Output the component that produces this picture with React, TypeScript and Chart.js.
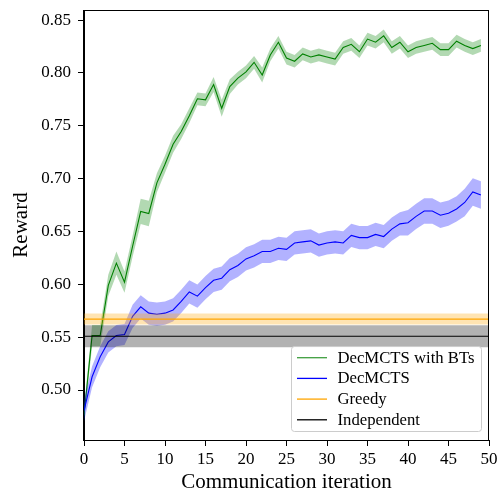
import React, { useEffect, useRef } from "react";
import { Chart, registerables } from "chart.js";

Chart.register(...registerables);

const iterations = [
  0, 1, 2, 3, 4, 5, 6, 7, 8, 9, 10, 11, 12, 13, 14, 15, 16, 17, 18, 19, 20, 21, 22, 23, 24,
  25, 26, 27, 28, 29, 30, 31, 32, 33, 34, 35, 36, 37, 38, 39, 40, 41, 42, 43, 44, 45, 46, 47, 48, 49,
];

const btMean = [
  0.476, 0.5515, 0.5515, 0.599, 0.620, 0.602, 0.636, 0.669, 0.667, 0.696,
  0.7135, 0.7325, 0.7445, 0.7595, 0.7755, 0.7745, 0.789, 0.7665, 0.787, 0.795,
  0.801, 0.810, 0.798, 0.817, 0.829, 0.814, 0.811, 0.818, 0.815, 0.817,
  0.815, 0.813, 0.824, 0.827, 0.820, 0.832, 0.829, 0.835, 0.824, 0.829,
  0.820, 0.824, 0.826, 0.828, 0.822, 0.822, 0.830, 0.826, 0.823, 0.826,
];
const btStd = [
  0.006, 0.010, 0.010, 0.010, 0.011, 0.010, 0.010, 0.012, 0.012, 0.009,
  0.008, 0.008, 0.007, 0.007, 0.006, 0.006, 0.007, 0.008, 0.007, 0.006,
  0.006, 0.006, 0.007, 0.006, 0.006, 0.006, 0.006, 0.006, 0.006, 0.006,
  0.006, 0.006, 0.006, 0.006, 0.006, 0.006, 0.006, 0.006, 0.006, 0.006,
  0.006, 0.006, 0.006, 0.006, 0.006, 0.006, 0.006, 0.006, 0.006, 0.006,
];

const decMean = [
  0.4805, 0.5125, 0.5315, 0.5455, 0.5515, 0.5525, 0.5697, 0.5787, 0.5727, 0.5717,
  0.5727, 0.5757, 0.5838, 0.5928, 0.5888, 0.5968, 0.6038, 0.6058, 0.6138, 0.6178,
  0.624, 0.627, 0.6311, 0.6311, 0.6341, 0.6331, 0.6391, 0.6401, 0.6411, 0.6371,
  0.6391, 0.6401, 0.6391, 0.6462, 0.6442, 0.6442, 0.6472, 0.6452, 0.6522, 0.6572,
  0.6582, 0.6643, 0.6693, 0.6693, 0.6653, 0.6673, 0.6713, 0.6774, 0.6874, 0.6844,
];
const decStd = [
  0.010, 0.010, 0.010, 0.010, 0.010, 0.010, 0.011, 0.011, 0.011, 0.011,
  0.011, 0.011, 0.011, 0.011, 0.011, 0.011, 0.011, 0.011, 0.011, 0.011,
  0.011, 0.011, 0.011, 0.011, 0.011, 0.011, 0.011, 0.011, 0.011, 0.011,
  0.011, 0.011, 0.011, 0.011, 0.011, 0.011, 0.011, 0.011, 0.011, 0.011,
  0.012, 0.012, 0.012, 0.012, 0.012, 0.012, 0.012, 0.013, 0.013, 0.013,
];

const greedyMean = 0.5671;
const greedyStd = 0.0052;
const indepMean = 0.5508;
const indepStd = 0.0104;

const xSpan = [0, 50];
const xTickValues = [0, 5, 10, 15, 20, 25, 30, 35, 40, 45, 50];
const yTickValues = [0.5, 0.55, 0.6, 0.65, 0.7, 0.75, 0.8, 0.85];

const legendLabels = ["DecMCTS with BTs", "DecMCTS", "Greedy", "Independent"];
const legendColors = ["#3f9f3f", "#0000ff", "#ffa500", "#000000"];

const FONT = "'Liberation Serif', 'Times New Roman', serif";

function series(xs: number[], ys: number[]) {
  return xs.map((x, i) => ({ x, y: ys[i] }));
}

function bandSets(
  xs: number[],
  mean: number[],
  std: number[],
  line: string,
  fill: string,
  baseOrder: number
) {
  const lo = mean.map((m, i) => m - std[i]);
  const hi = mean.map((m, i) => m + std[i]);
  return [
    {
      data: series(xs, lo),
      borderWidth: 0,
      borderColor: "rgba(0,0,0,0)",
      pointRadius: 0,
      fill: false,
      order: baseOrder + 2,
      clip: 0,
    },
    {
      data: series(xs, hi),
      borderWidth: 0,
      borderColor: "rgba(0,0,0,0)",
      backgroundColor: fill,
      pointRadius: 0,
      fill: "-1",
      order: baseOrder + 1,
      clip: 0,
    },
    {
      data: series(xs, mean),
      borderWidth: 1.1,
      borderColor: line,
      pointRadius: 0,
      fill: false,
      order: baseOrder,
      clip: 0,
    },
  ];
}

const framePlugin = {
  id: "frameAndLegend",
  afterDraw(chart: any) {
    const { ctx, chartArea } = chart;
    const { left, right, top, bottom } = chartArea;
    ctx.save();
    ctx.strokeStyle = "#000";
    ctx.lineWidth = 1;
    ctx.strokeRect(Math.round(left) + 0.5 - 1, Math.round(top) + 0.5, Math.round(right - left), Math.round(bottom - top));

    // legend
    const bx = 291.5;
    const by = 346.5;
    const bw = 190;
    const bh = 85;
    const r = 3;
    ctx.beginPath();
    ctx.moveTo(bx + r, by);
    ctx.lineTo(bx + bw - r, by);
    ctx.arcTo(bx + bw, by, bx + bw, by + r, r);
    ctx.lineTo(bx + bw, by + bh - r);
    ctx.arcTo(bx + bw, by + bh, bx + bw - r, by + bh, r);
    ctx.lineTo(bx + r, by + bh);
    ctx.arcTo(bx, by + bh, bx, by + bh - r, r);
    ctx.lineTo(bx, by + r);
    ctx.arcTo(bx, by, bx + r, by, r);
    ctx.closePath();
    ctx.fillStyle = "rgba(255,255,255,0.8)";
    ctx.fill();
    ctx.strokeStyle = "#cccccc";
    ctx.lineWidth = 1;
    ctx.stroke();

    const rows = [357.7, 378.4, 399.1, 419.8];
    ctx.font = `16.7px ${FONT}`;
    ctx.textBaseline = "middle";
    ctx.textAlign = "left";
    legendLabels.forEach((label, i) => {
      const y = rows[i];
      ctx.beginPath();
      ctx.strokeStyle = legendColors[i];
      ctx.lineWidth = 1.3;
      ctx.moveTo(297, y);
      ctx.lineTo(327, y);
      ctx.stroke();
      ctx.fillStyle = "#000";
      ctx.fillText(label, 337.5, y + 0.5);
    });
    ctx.restore();
  },
};

export default function App() {
  const ref = useRef<HTMLCanvasElement | null>(null);

  useEffect(() => {
    document.body.style.margin = "0";
    const canvas = ref.current;
    if (!canvas) return;
    Chart.defaults.color = "#000";
    Chart.defaults.font.family = FONT;

    const datasets: any[] = [
      ...bandSets(iterations, btMean, btStd, "#008000", "rgba(0,128,0,0.3)", 10),
      ...bandSets(iterations, decMean, decStd, "#0000ff", "rgba(0,0,255,0.3)", 7),
      ...bandSets(
        xSpan,
        [greedyMean, greedyMean],
        [greedyStd, greedyStd],
        "#ffa500",
        "rgba(255,165,0,0.3)",
        4
      ),
      ...bandSets(
        xSpan,
        [indepMean, indepMean],
        [indepStd, indepStd],
        "#000000",
        "rgba(0,0,0,0.3)",
        1
      ),
    ];

    const chart = new Chart(canvas, {
      type: "line",
      data: { datasets },
      plugins: [framePlugin],
      options: {
        responsive: false,
        animation: false,
        devicePixelRatio: 1,
        layout: { padding: { left: 0, right: 12, top: 10, bottom: 0 } },
        plugins: {
          legend: { display: false },
          tooltip: { enabled: false },
        },
        elements: { line: { tension: 0 } },
        scales: {
          x: {
            type: "linear",
            min: 0,
            max: 50,
            afterFit: (s: any) => {
              s.height = 53;
            },
            afterBuildTicks: (s: any) => {
              s.ticks = xTickValues.map((v) => ({ value: v }));
            },
            ticks: {
              font: { size: 17, family: FONT, lineHeight: 1.2 },
              padding: 3,
              maxRotation: 0,
              autoSkip: false,
              callback: (v: any) => String(v),
            },
            grid: {
              drawOnChartArea: false,
              drawTicks: true,
              tickLength: 6,
              color: "#000",
              lineWidth: 1,
            },
            border: { display: true, color: "#000", width: 1 },
            title: {
              display: true,
              text: "Communication iteration",
              font: { size: 21, family: FONT, lineHeight: 1.0 },
              padding: { top: 0, bottom: 0 },
            },
          },
          y: {
            type: "linear",
            min: 0.4527,
            max: 0.8595,
            afterFit: (s: any) => {
              s.width = 84;
            },
            afterBuildTicks: (s: any) => {
              s.ticks = yTickValues.map((v) => ({ value: v }));
            },
            ticks: {
              font: { size: 17, family: FONT, lineHeight: 0.2 },
              padding: 7,
              autoSkip: false,
              callback: (v: any) => Number(v).toFixed(2),
            },
            grid: {
              drawOnChartArea: false,
              drawTicks: true,
              tickLength: 6,
              color: "#000",
              lineWidth: 1,
            },
            border: { display: true, color: "#000", width: 1 },
            title: {
              display: true,
              text: "Reward",
              font: { size: 21, family: FONT, lineHeight: 1.2 },
              padding: { top: 9, bottom: 0 },
            },
          },
        },
      },
    } as any);

    return () => {
      chart.destroy();
    };
  }, []);

  return (
    <div style={{ width: 501, height: 493 }}>
      <canvas ref={ref} width={501} height={493} style={{ display: "block" }} />
    </div>
  );
}
